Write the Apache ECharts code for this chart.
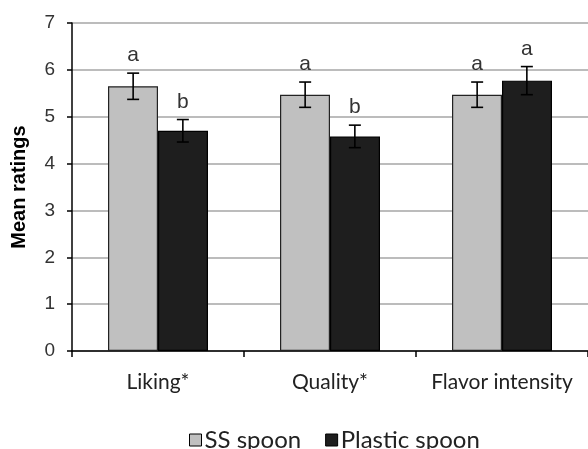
<!DOCTYPE html>
<html>
<head>
<meta charset="utf-8">
<script src="https://cdn.jsdelivr.net/npm/echarts@6/dist/echarts.min.js"></script>
<style>
  html, body { margin: 0; padding: 0; background: #fff; }
  #chart { width: 588px; height: 449px; }
</style>
</head>
<body>
<div id="chart"></div>
<script>
const categories = ["Liking*", "Quality*", "Flavor intensity"];
const ssMeans = [5.65, 5.47, 5.47];
const ssErr = [0.28, 0.27, 0.27];
const ssLetters = ["a", "a", "a"];
const plasticMeans = [4.7, 4.58, 5.77];
const plasticErr = [0.24, 0.24, 0.3];
const plasticLetters = ["b", "b", "a"];

const chartDom = document.getElementById("chart");
const myChart = echarts.init(chartDom);

// offset of each bar centre from the category centre, as share of the band
const barShare = 50 / 173;

function errSeries(name, means, errs, letters, side) {
  const data = means.map((m, i) => [i, m, errs[i], letters[i]]);
  return {
    name: name + " err",
    type: "custom",
    z: 5,
    silent: true,
    encode: { x: 0, y: 1 },
    data: data,
    renderItem: function (params, api) {
      const i = api.value(0);
      const m = api.value(1);
      const e = api.value(2);
      const band = api.size([1, 0])[0];
      const base = api.coord([i, m]);
      const x = base[0] + side * band * barShare / 2;
      const top = api.coord([i, m + e])[1];
      const bot = api.coord([i, m - e])[1];
      const cap = 6;
      const st = { stroke: "#000", lineWidth: 1.6 };
      return {
        type: "group",
        children: [
          { type: "line", shape: { x1: x, y1: top, x2: x, y2: bot }, style: st },
          { type: "line", shape: { x1: x - cap, y1: top, x2: x + cap, y2: top }, style: st },
          { type: "line", shape: { x1: x - cap, y1: bot, x2: x + cap, y2: bot }, style: st },
          {
            type: "text",
            style: {
              x: x, y: top - 7,
              text: data[params.dataIndex][3],
              align: "center", verticalAlign: "bottom",
              font: "21px 'Liberation Sans', Arial, sans-serif",
              fill: "#333"
            }
          }
        ]
      };
    }
  };
}

myChart.setOption({
  animation: false,
  grid: { left: 72, right: -3, top: 23, bottom: 98, containLabel: false },
  legend: {
    data: ["SS spoon", "Plastic spoon"],
    left: 184,
    top: 423,
    itemWidth: 12,
    itemHeight: 12,
    itemGap: 24,
    icon: "rect",
    itemStyle: { borderColor: "#000", borderWidth: 1 },
    textStyle: { fontFamily: "Lato", fontSize: 24, color: "#222", padding: [0, 0, 0, -2] }
  },
  xAxis: {
    type: "category",
    data: categories,
    axisLine: { lineStyle: { color: "#000", width: 1.5 } },
    axisTick: { show: true, length: 6, lineStyle: { color: "#000", width: 1.5 } },
    axisLabel: {
      interval: 0,
      hideOverlap: false,
      fontFamily: "Lato",
      fontSize: 21,
      color: "#222",
      margin: 21
    }
  },
  yAxis: {
    type: "value",
    min: 0,
    max: 7,
    interval: 1,
    name: "Mean ratings",
    nameLocation: "middle",
    nameGap: 43,
    nameTextStyle: { fontFamily: "Liberation Sans", fontWeight: "bold", fontSize: 20, color: "#000" },
    axisLine: { show: true, lineStyle: { color: "#000", width: 1.5 } },
    axisTick: { show: true, length: 5, lineStyle: { color: "#000", width: 1.5 } },
    axisLabel: { fontFamily: "Liberation Sans", fontSize: 19, color: "#333", margin: 17 },
    splitLine: { show: true, lineStyle: { color: "#a6a6a6", width: 1.5 } }
  },
  series: [
    {
      name: "SS spoon",
      type: "bar",
      data: ssMeans,
      barWidth: 50,
      barGap: "0%",
      itemStyle: { color: "#c0c0c0", borderColor: "#222", borderWidth: 1.2 }
    },
    {
      name: "Plastic spoon",
      type: "bar",
      data: plasticMeans,
      barWidth: 50,
      barGap: "0%",
      itemStyle: { color: "#1e1e1e", borderColor: "#000", borderWidth: 1.2 }
    },
    errSeries("SS spoon", ssMeans, ssErr, ssLetters, -1),
    errSeries("Plastic spoon", plasticMeans, plasticErr, plasticLetters, 1)
  ]
});
</script>
</body>
</html>
